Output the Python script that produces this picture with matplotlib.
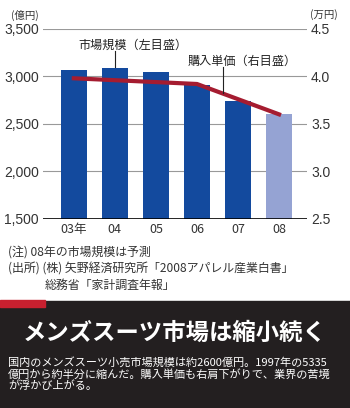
import numpy as np
import matplotlib.pyplot as plt
from matplotlib.patches import Rectangle

plt.rcParams['font.family'] = ['Noto Sans CJK JP', 'DejaVu Sans']

years = ['03年', '04', '05', '06', '07', '08']
market = [3070, 3090, 3050, 2910, 2740, 2600]   # 億円 (left)
price = [3.98, 3.96, 3.94, 3.92, 3.76, 3.60]     # 万円 (right)
left_ticks = [1500, 2000, 2500, 3000, 3500]
right_ticks = [2.5, 3.0, 3.5, 4.0, 4.5]

note1 = '(注) 08年の市場規模は予測'
note2 = '(出所) (株) 矢野経済研究所「2008アパレル産業白書」'
note3 = '総務省「家計調査年報」'
title = 'メンズスーツ市場は縮小続く'
body = ['国内のメンズスーツ小売市場規模は約2600億円。1997年の5335',
        '億円から約半分に縮んだ。購入単価も右肩下がりで、業界の苦境',
        'が浮かび上がる。']

H = 408.0
fig = plt.figure(figsize=(3.5, 4.08), dpi=100)
ax = fig.add_axes([0.123, 0.464, 0.754, 0.465])
x = np.arange(len(years))
colors = ['#134a9e'] * 5 + ['#95a3d3']
ax.bar(x, market, width=0.63, color=colors, zorder=2)
ax.set_ylim(1500, 3500)
ax.set_xlim(-0.75, 5.68)
ax.set_yticks(left_ticks)
ax.set_yticklabels([f'{v:,}' for v in left_ticks], family='Liberation Sans', fontsize=10, color='#333333')
ax.set_xticks(x)
ax.set_xticklabels(years, fontsize=9, color='#333333')
ax.tick_params(axis='x', length=0, pad=3)
ax.tick_params(axis='y', length=0, pad=3)
for v in left_ticks[1:]:
    ax.axhline(v, color='#999999', lw=0.8, zorder=1)
ax.axhline(1500, color='black', lw=1.2, zorder=3)
for s in ax.spines.values():
    s.set_visible(False)

ax2 = ax.twinx()
ax2.plot(x, price, color='#a51c30', lw=3, zorder=4)
ax2.set_ylim(2.5, 4.5)
ax2.set_yticks(right_ticks)
ax2.set_yticklabels([f'{v:.1f}' for v in right_ticks], family='Liberation Sans', fontsize=10, color='#333333')
ax2.tick_params(axis='y', length=0, pad=3)
for s in ax2.spines.values():
    s.set_visible(False)

fig.text(11 / 350, 1 - 15 / H, '(億円)', fontsize=7.5, va='center', color='#333333')
fig.text(310 / 350, 1 - 15 / H, '(万円)', fontsize=7.5, va='center', color='#333333')

# annotations with leader lines
ax.plot([1.0, 1.0], [3095, 3265], color='#222222', lw=0.8, zorder=5)
ax.text(0.1, 3262, '市場規模（左目盛）', fontsize=8.7, ha='left', va='bottom', color='#222222')
ax2.plot([3.64, 3.64], [3.82, 4.1], color='#222222', lw=0.8, zorder=5)
ax2.text(2.77, 4.095, '購入単価（右目盛）', fontsize=8.7, ha='left', va='bottom', color='#222222')

fig.text(8 / 350, 1 - 252 / H, note1, fontsize=8.6, va='center', color='#333333')
fig.text(8 / 350, 1 - 269 / H, note2, fontsize=8.6, va='center', color='#333333')
fig.text(45 / 350, 1 - 285 / H, note3, fontsize=8.6, va='center', color='#333333')

# dark caption box
fig.patches.append(Rectangle((0, 0), 1, 1 - 301 / H, transform=fig.transFigure,
                             color='#231f20', zorder=0))
fig.patches.append(Rectangle((0, 1 - 307 / H), 45 / 350, 7 / H, transform=fig.transFigure,
                             color='#c8202f', zorder=1))
fig.text(0.5, 1 - 333 / H, title, fontsize=16.8, fontweight='bold', color='white',
         ha='center', va='center')
for i, yy in enumerate([362, 374, 386]):
    fig.text(8 / 350, 1 - yy / H, body[i], fontsize=8.0, color='white', va='center')

fig.savefig('out.png', dpi=100)
